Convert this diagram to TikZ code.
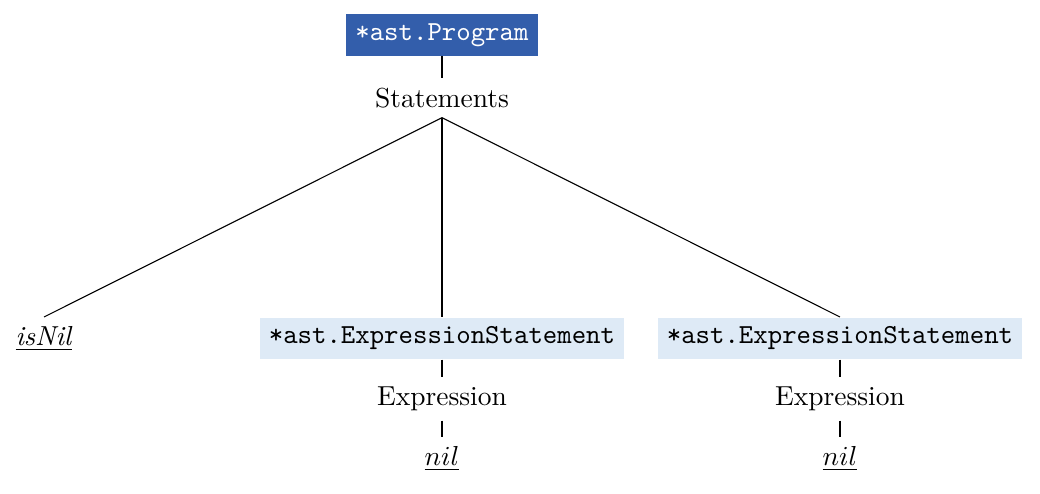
\documentclass[tikz,border=0pt]{standalone}
\usepackage{tikz}
\usetikzlibrary{positioning}
\definecolor{progblue}{RGB}{51,94,171}
\definecolor{stmtblue}{RGB}{222,234,246}
\tikzset{
node distance=0.28cm,
prog node/.style={fill=progblue,text=white,font=\ttfamily},
stmt node/.style={fill=stmtblue,font=\ttfamily},
field node/.style={},
ramo/.style={thin}}

\begin{document}
\begin{tikzpicture}

\useasboundingbox (0,0) rectangle (13.3,-6.305);

\node[prog node] (prog) at (5.652,-0.448) {*ast.Program};
\node[field node] (stmts) at (5.652,-1.253) {Statements};

\node[anchor=north] (isnil) at (0.563,-4.054) {\underline{\textit{isNil}}};
\node[stmt node,anchor=north] (es1) at (5.652,-4.054) {*ast.ExpressionStatement};
\node[stmt node,anchor=north] (es2) at (10.742,-4.054) {*ast.ExpressionStatement};

\node[field node] (expr1) at (5.652,-5.102) {Expression};
\node[field node] (expr2) at (10.742,-5.102) {Expression};
\node (nil1) at (5.652,-5.870) {$\underline{nil}$};
\node (nil2) at (10.742,-5.870) {$\underline{nil}$};

\path[ramo]
	(prog.south) edge (stmts.north)
	(stmts.south) edge (isnil.north)
	(stmts.south) edge (es1.north)
	(stmts.south) edge (es2.north);
\path[ramo]
	(es1.south) edge (expr1.north)
	(expr1.south) edge (nil1.north)
	(es2.south) edge (expr2.north)
	(expr2.south) edge (nil2.north);
\end{tikzpicture}
\end{document}
